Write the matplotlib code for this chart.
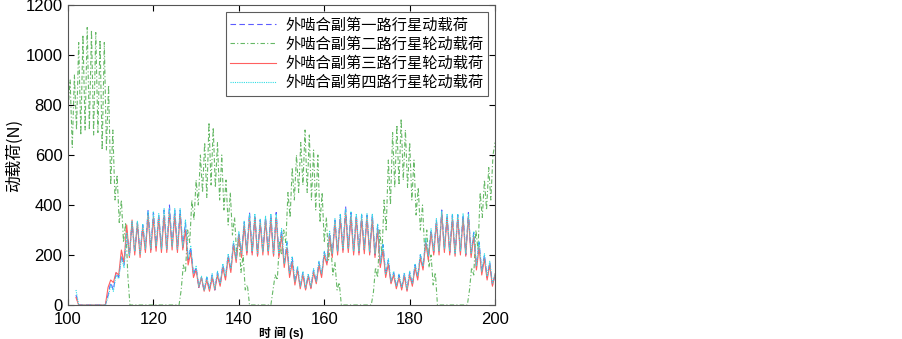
import numpy as np
import matplotlib
matplotlib.use("Agg")
import matplotlib.pyplot as plt

plt.rcParams['font.family'] = ['Liberation Sans', 'Noto Sans CJK SC', 'DejaVu Sans']

# time grids (s)
t_planet = np.linspace(100, 200, 161)   # first/third/fourth path, 0.625 s step
t_green = np.linspace(100, 200, 201)    # second path, 0.5 s step

nan = np.nan

# path 1 (blue dashed)
load_1 = [nan, nan, nan, 40] + [0] * 11 + [
    40, 90, 60, 130, 110, 200, 160, 300, 200, 330,
    210, 330, 200, 320, 220, 380, 220, 370, 230, 360,
    220, 380, 220, 400, 230, 380, 220, 380, 230, 330,
    180, 230, 120, 150, 70, 110, 55, 110, 60, 120,
    60, 130, 80, 160, 110, 200, 140, 250, 180, 290,
    200, 330, 210, 370, 210, 360, 200, 340, 210, 350,
    210, 360, 200, 370, 200, 300, 160, 250, 120, 190,
    90, 150, 70, 130, 65, 120, 70, 140, 90, 170,
    120, 210, 170, 290, 200, 340, 210, 360, 220, 395,
    220, 370, 210, 360, 210, 360, 220, 360, 210, 360,
    200, 320, 160, 240, 120, 180, 90, 130, 70, 120,
    65, 125, 60, 130, 80, 160, 110, 200, 150, 260,
    190, 300, 210, 340, 210, 380, 220, 360, 210, 360,
    200, 360, 210, 360, 200, 370, 200, 290, 150, 250,
    130, 200, 110, 170, 80, 120]

# path 3 (red solid)
load_3 = [nan, nan, nan, 30] + [0] * 11 + [
    70, 100, 90, 130, 120, 220, 170, 320, 190, 340,
    200, 330, 190, 310, 210, 360, 210, 350, 215, 350,
    210, 360, 210, 370, 220, 360, 210, 360, 220, 300,
    160, 210, 110, 140, 70, 110, 55, 100, 55, 110,
    60, 120, 75, 150, 100, 190, 130, 240, 170, 280,
    190, 320, 200, 350, 200, 350, 195, 330, 200, 340,
    200, 345, 195, 350, 190, 280, 150, 230, 110, 170,
    80, 140, 65, 120, 60, 115, 65, 130, 85, 160,
    110, 200, 160, 280, 190, 330, 200, 345, 210, 370,
    210, 355, 200, 350, 200, 345, 205, 350, 200, 345,
    190, 300, 150, 220, 110, 165, 85, 120, 65, 110,
    60, 115, 55, 120, 75, 150, 100, 190, 140, 250,
    180, 290, 200, 330, 200, 370, 210, 350, 200, 345,
    195, 350, 200, 345, 195, 355, 190, 275, 140, 230,
    120, 185, 100, 160, 75, 125]

# path 4 (cyan dotted)
load_4 = [nan, nan, nan, 60] + [0] * 11 + [
    30, 80, 55, 120, 105, 190, 150, 290, 195, 335,
    215, 335, 205, 325, 225, 375, 225, 375, 235, 365,
    225, 385, 225, 390, 235, 385, 225, 385, 235, 340,
    185, 235, 125, 155, 75, 115, 60, 115, 65, 125,
    65, 135, 85, 165, 115, 205, 145, 255, 185, 295,
    205, 335, 215, 365, 215, 365, 205, 345, 215, 355,
    215, 365, 205, 365, 205, 305, 165, 255, 125, 195,
    95, 155, 75, 135, 70, 125, 75, 145, 95, 175,
    125, 215, 175, 295, 205, 345, 215, 365, 225, 385,
    225, 375, 215, 365, 215, 365, 225, 365, 215, 365,
    205, 325, 165, 245, 125, 185, 95, 135, 75, 125,
    70, 130, 65, 135, 85, 165, 115, 205, 155, 265,
    195, 305, 215, 345, 215, 375, 225, 365, 215, 365,
    205, 365, 215, 365, 205, 365, 205, 295, 155, 255,
    135, 205, 115, 175, 85, 125]

# path 2 (green dash-dot)
load_2 = ([780, 900, 630, 920, 700, 1050, 680, 1080, 700, 1110,
           700, 1100, 680, 1090, 690, 1060, 620, 1050, 620, 880,
           480, 700, 420, 520, 330, 420, 250, 330, 120]
          + [0] * 24
          + [60, 160, 130, 300, 250, 420, 340, 500, 400, 600,
             450, 650, 430, 730, 480, 710, 470, 650, 420, 600,
             380, 500, 320, 450, 280, 350, 200, 270, 130, 200, 60, 80]
          + [0] * 11
          + [60, 120, 100, 250, 200, 300, 250, 450, 350, 550,
             420, 600, 450, 650, 480, 700, 450, 680, 420, 620,
             380, 600, 330, 450, 250, 350, 180, 250, 120, 170, 60, 90]
          + [0] * 15
          + [50, 150, 110, 300, 200, 420, 300, 580, 400, 690,
             470, 720, 480, 745, 500, 700, 470, 650, 420, 580,
             360, 470, 300, 400, 220, 300, 150, 200, 80, 130]
          + [0] * 15
          + [60, 150, 120, 300, 220, 450, 350, 500, 380, 550, 420, 600, 650])

labels = ['外啮合副第一路行星动载荷', '外啮合副第二路行星轮动载荷',
          '外啮合副第三路行星轮动载荷', '外啮合副第四路行星轮动载荷']

fig = plt.figure(figsize=(9.03, 3.39), dpi=100)
ax = fig.add_axes([0.0753, 0.1003, 0.473, 0.885])

ax.plot(t_planet, load_1, color='#5c5cff', ls=(0, (5, 3)), lw=0.8, label=labels[0])
ax.plot(t_green, load_2, color='#66b866', ls=(0, (4, 2, 1, 2)), lw=0.8, label=labels[1])
ax.plot(t_planet, load_3, color='#ff6060', ls='-', lw=0.8, label=labels[2])
ax.plot(t_planet, load_4, color='#30dde5', ls=(0, (1, 1)), lw=0.8, label=labels[3])

ax.set_xlim(100, 200)
ax.set_ylim(0, 1200)
ax.set_xticks(np.arange(100, 201, 20))
ax.set_yticks(np.arange(0, 1201, 200))
ax.tick_params(direction='in', top=True, right=True, labelsize=12, length=4)
ax.tick_params(axis='x', pad=5)
ax.tick_params(axis='y', pad=4)
for s in ax.spines.values():
    s.set_color('#555555')
    s.set_linewidth(0.8)

ax.set_xlabel('时 间 (s)', fontsize=8.5, fontweight='bold', labelpad=0)
ax.set_ylabel('动载荷(N)', fontsize=12, labelpad=2,
              family=['Noto Sans CJK SC', 'DejaVu Sans'])

leg = ax.legend(loc='upper right', frameon=True, fancybox=False,
                edgecolor='#333333', borderpad=0.3, labelspacing=0.15,
                handlelength=3.0, handletextpad=0.6, borderaxespad=0.45,
                prop={'family': ['Noto Sans CJK SC', 'DejaVu Sans'], 'size': 11})
leg.get_frame().set_linewidth(0.8)

fig.savefig('out.png', dpi=100)
